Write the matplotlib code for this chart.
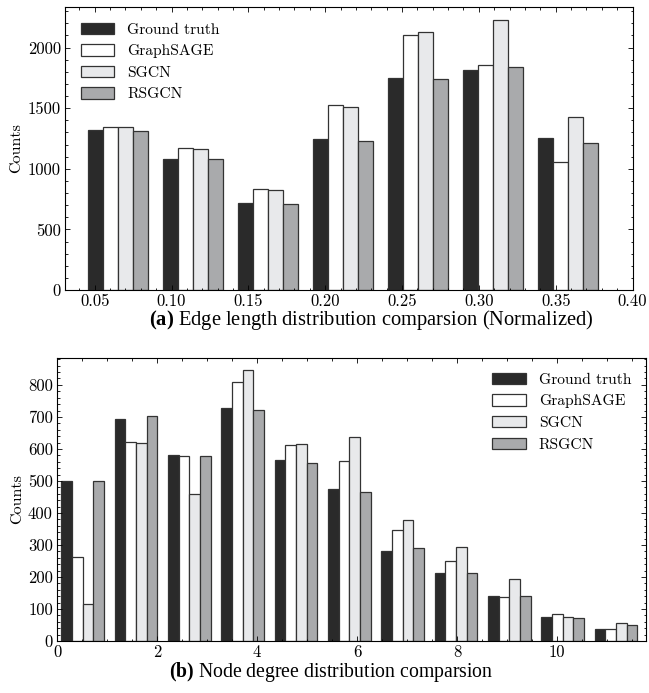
import numpy as np
import matplotlib
matplotlib.use("Agg")
import matplotlib.pyplot as plt
from matplotlib.ticker import MultipleLocator

plt.rcParams["mathtext.fontset"] = "custom"
plt.rcParams["mathtext.rm"] = "Liberation Serif"
plt.rcParams["mathtext.bf"] = "Liberation Serif:bold"
plt.rcParams["axes.unicode_minus"] = False

# data
methods = ["Ground truth", "GraphSAGE", "SGCN", "RSGCN"]
colors = ["#2a2a2a", "#ffffff", "#e8e9eb", "#a9aaac"]

# (a) edge length histogram, 7 bins
edge_gt = [1320, 1077, 720, 1250, 1752, 1813, 1255]
edge_sage = [1345, 1175, 831, 1524, 2105, 1855, 1056]
edge_sgcn = [1345, 1166, 823, 1513, 2132, 2226, 1428]
edge_rsgcn = [1315, 1081, 712, 1232, 1744, 1838, 1211]

# (b) node degree histogram, 11 bins
deg_gt = [500, 693, 582, 729, 566, 475, 280, 212, 141, 76, 36]
deg_sage = [261, 621, 578, 808, 612, 562, 347, 251, 139, 83, 37]
deg_sgcn = [116, 619, 460, 845, 614, 636, 379, 293, 195, 74, 56]
deg_rsgcn = [500, 704, 578, 721, 557, 465, 289, 212, 141, 71, 49]


def grouped_hist(ax, series, start, width, rwidth=0.8):
    # mimic plt.hist with several datasets side by side
    n = len(series[0])
    bw = width * rwidth / len(series)
    edges = start + np.arange(n) * width
    for k, (vals, c, lab) in enumerate(zip(series, colors, methods)):
        x = edges + width * (1 - rwidth) / 2 + k * bw
        ax.bar(x, vals, width=bw, align="edge", color=c, edgecolor="#333333",
               linewidth=0.9, label=lab)


def style(ax):
    ax.tick_params(which="both", direction="in", top=True, right=True,
                   width=0.6, labelsize=12, pad=3)
    ax.tick_params(which="major", length=3.5)
    ax.tick_params(which="minor", length=1.8)
    for s in ax.spines.values():
        s.set_linewidth(0.8)
    for lab in ax.get_xticklabels() + ax.get_yticklabels():
        lab.set_family("cmr10")
    ax.set_ylabel("Counts", family="cmr10", fontsize=11.5, labelpad=3)


fig = plt.figure(figsize=(6.49, 6.93), dpi=100)
ax1 = fig.add_axes([65 / 649, 1 - 290 / 693, 568 / 649, 283 / 693])
ax2 = fig.add_axes([57 / 649, 1 - 641 / 693, 589 / 649, 283 / 693])

grouped_hist(ax1, [edge_gt, edge_sage, edge_sgcn, edge_rsgcn], 0.0410, 0.04876)
ax1.set_xlim(0.0307, 0.4003)
ax1.set_ylim(0, 2335)
ax1.xaxis.set_major_locator(MultipleLocator(0.05))
ax1.xaxis.set_minor_locator(MultipleLocator(0.01))
ax1.yaxis.set_major_locator(MultipleLocator(500))
ax1.yaxis.set_minor_locator(MultipleLocator(100))
ax1.xaxis.set_major_formatter(lambda v, p: f"{v:.2f}")
style(ax1)
ax1.legend(loc="upper left", frameon=False, prop={"family": "cmr10", "size": 11.2},
           handlelength=2.15, handleheight=0.75, labelspacing=0.48,
           borderaxespad=0.6, handletextpad=0.85)

grouped_hist(ax2, [deg_gt, deg_sage, deg_sgcn, deg_rsgcn], -0.02, 1.0667)
ax2.set_xlim(0, 11.78)
ax2.set_ylim(0, 884)
ax2.xaxis.set_major_locator(MultipleLocator(2))
ax2.xaxis.set_minor_locator(MultipleLocator(0.5))
ax2.yaxis.set_major_locator(MultipleLocator(100))
ax2.yaxis.set_minor_locator(MultipleLocator(20))
style(ax2)
ax2.legend(loc="upper right", frameon=False, prop={"family": "cmr10", "size": 11.2},
           handlelength=2.15, handleheight=0.75, labelspacing=0.48,
           borderaxespad=0.55, handletextpad=0.85)

fig.text(371 / 649, 1 - 320 / 693, r"$\mathbf{(a)}$ Edge length distribution comparsion (Normalized)",
         family="Liberation Serif", fontsize=14.8, ha="center", va="center")
fig.text(331 / 649, 1 - 672 / 693, r"$\mathbf{(b)}$ Node degree distribution comparsion",
         family="Liberation Serif", fontsize=14.2, ha="center", va="center")

fig.savefig("out.png", dpi=100)
